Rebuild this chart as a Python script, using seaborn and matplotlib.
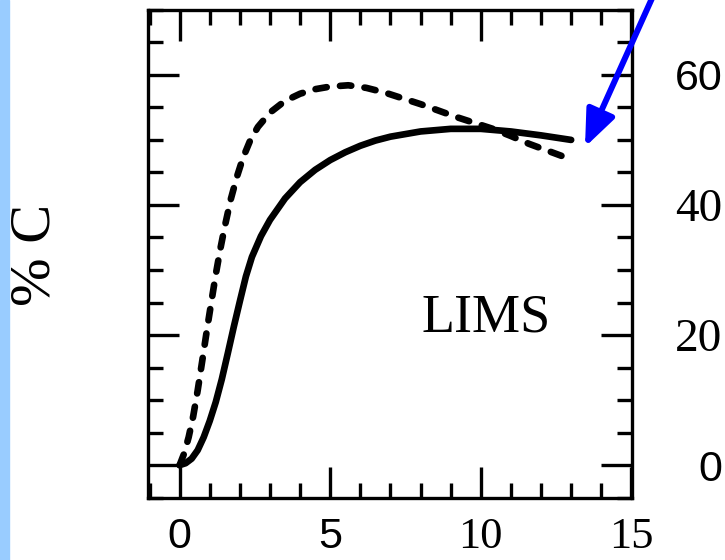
import matplotlib
matplotlib.use("Agg")
import matplotlib.pyplot as plt
from matplotlib.ticker import MultipleLocator
from matplotlib.patches import Rectangle
import pandas as pd
import seaborn as sns

# solid curve
solid_x = [0, 0.2, 0.4, 0.6, 0.8, 1.0, 1.2, 1.4, 1.6, 1.8, 2.0, 2.2, 2.4, 2.7, 3.0,
           3.5, 4.0, 4.5, 5.0, 5.5, 6.0, 6.5, 7.0, 8.0, 9.0, 10.0, 11.0, 12.0, 13.0]
solid_y = [0, 0.3, 1.0, 2.3, 4.3, 6.8, 9.7, 13.2, 17.2, 21.3, 25.2, 29.0, 32.0, 35.2, 37.7,
           41.0, 43.5, 45.4, 46.9, 48.1, 49.1, 49.9, 50.5, 51.3, 51.7, 51.7, 51.3, 50.7, 50.0]

# dashed curve
dash_x = [0, 0.15, 0.3, 0.45, 0.6, 0.75, 0.9, 1.05, 1.2, 1.35, 1.5, 1.7, 1.9, 2.1, 2.35,
          2.6, 3.0, 3.5, 4.0, 4.5, 5.0, 5.6, 6.2, 6.8, 7.4, 8.0, 8.6, 9.2, 9.8, 10.4,
          11.0, 11.6, 12.3, 13.0]
dash_y = [0, 1.8, 4.3, 7.5, 11.5, 16.0, 20.6, 25.0, 29.3, 33.2, 36.7, 40.9, 44.3, 47.2, 50.0,
          52.0, 54.2, 56.0, 57.1, 57.8, 58.2, 58.4, 58.0, 57.3, 56.4, 55.5, 54.5, 53.5, 52.6, 51.7,
          50.6, 49.4, 48.2, 47.0]

x_ticks = [0, 5, 10, 15]
y_ticks = [0, 20, 40, 60]
# the reference mixes sans and serif digits
x_fonts = ["Liberation Sans", "Liberation Sans", "Liberation Serif", "Liberation Serif"]
y_fonts = ["Liberation Sans", "Liberation Serif", "Liberation Serif", "Liberation Sans"]

sns.set_style("ticks")
plt.rcParams["font.family"] = ["Liberation Sans", "DejaVu Sans"]
plt.rcParams["text.color"] = "black"
plt.rcParams["xtick.color"] = "black"
plt.rcParams["ytick.color"] = "black"
plt.rcParams["xtick.labelcolor"] = "black"
plt.rcParams["ytick.labelcolor"] = "black"

fig = plt.figure(figsize=(7.25, 5.6), dpi=100)
fig.patches.append(Rectangle((0, 0), 9 / 725, 1, transform=fig.transFigure,
                             color="#99ccff", zorder=0))
ax = fig.add_axes([148 / 725, 62 / 560, 484 / 725, 488.5 / 560])

df_s = pd.DataFrame({"x": solid_x, "y": solid_y})
df_d = pd.DataFrame({"x": dash_x, "y": dash_y})
sns.lineplot(data=df_s, x="x", y="y", ax=ax, color="black", lw=4.8)
sns.lineplot(data=df_d, x="x", y="y", ax=ax, color="black", lw=4.8,
             linestyle=(0, (1.7, 2.0)), dash_capstyle="round")

ax.set_xlim(-1.05, 15.02)
ax.set_ylim(-5.05, 70.05)
ax.set_xlabel("")
ax.set_ylabel("")

ax.set_xticks(x_ticks)
ax.set_yticks(y_ticks)
ax.xaxis.set_minor_locator(MultipleLocator(1))
ax.yaxis.set_minor_locator(MultipleLocator(5))
ax.tick_params(which="both", direction="in", top=True, right=True, left=True,
               bottom=True, width=2.4, color="black")
ax.tick_params(which="major", length=22)
ax.tick_params(which="minor", length=11)
ax.tick_params(axis="x", pad=14, labelsize=31)
ax.tick_params(axis="y", labelleft=False, labelright=True, pad=65, labelsize=31)

for lab, fam in zip(ax.get_xticklabels(), x_fonts):
    lab.set_family(fam)
    if "Serif" in fam:
        lab.set_fontsize(32)
for lab, fam in zip(ax.get_yticklabels(), y_fonts):
    lab.set_family(fam)
    lab.set_horizontalalignment("right")
    if "Serif" in fam:
        lab.set_fontsize(34)

for sp in ax.spines.values():
    sp.set_linewidth(2.4)
    sp.set_color("black")
    sp.set_visible(True)

ax.text(10.17, 22.6, "LIMS", fontsize=39, family="Liberation Serif",
        ha="center", va="center", color="black")

fig.text(35 / 725, 1 - 255 / 560, "% C", rotation=90, fontsize=42,
         family="Liberation Serif", ha="center", va="center", color="black")

# blue arrow coming from above the figure
ax.annotate("", xy=(585, 560 - 147), xycoords="figure pixels",
            xytext=(658, 575), textcoords="figure pixels",
            arrowprops=dict(arrowstyle="-|>,head_length=1.1,head_width=0.45",
                            mutation_scale=20, lw=4.3, color="#0000ff",
                            shrinkA=0, shrinkB=0),
            annotation_clip=False)

fig.savefig("out.png", dpi=100)
